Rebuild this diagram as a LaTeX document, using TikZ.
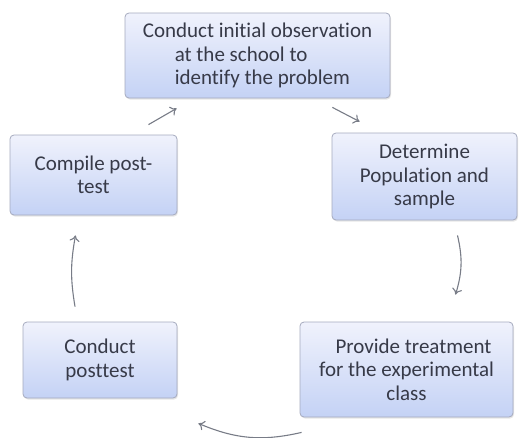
\documentclass[tikz,border=0pt]{standalone}
\usepackage{fontspec}
\setmainfont{Carlito}[Ligatures=NoCommon]
\usepackage{tikz}
\usetikzlibrary{arrows.meta}
\usetikzlibrary{shadows}
\usepackage{xcolor}
\definecolor{boxtop}{RGB}{240,242,252}
\definecolor{boxbot}{RGB}{196,210,245}
\definecolor{boxline}{RGB}{165,170,190}
\definecolor{boxtext}{RGB}{55,58,72}
\definecolor{flowgray}{RGB}{120,124,135}

\begin{document}
\begin{tikzpicture}[x=1pt,y=-1pt,
  stagebox/.style={rounded corners=4pt, draw=boxline, line width=0.8pt,
    top color=boxtop, bottom color=boxbot, text=boxtext, inner sep=0pt,
    font=\fontsize{21}{23.5}\selectfont, align=center,
    drop shadow={opacity=0.2, shadow xshift=1pt, shadow yshift=-1.5pt}},
  flow/.style={flowgray, line width=1.1pt, -{To[length=6pt,width=10pt]}}]
\useasboundingbox (0,0) rectangle (520,437);
\node [stagebox, minimum width=265pt, minimum height=85pt, align=left] (obs) at (257.5,55.5)
  {Conduct initial observation\\\hspace*{32pt}at the school to\\\hspace*{32pt}identify the problem};
\node [stagebox, minimum width=185pt, minimum height=87pt] (pop) at (424.5,176.5)
  {Determine\\Population and\\sample};
\node [stagebox, minimum width=213pt, minimum height=95pt] (treat) at (406.5,369.5)
  {\hspace*{14pt}Provide treatment\\for the experimental\\class};
\node [stagebox, minimum width=154pt, minimum height=76pt] (post) at (100,360)
  {Conduct\\posttest};
\node [stagebox, minimum width=167pt, minimum height=80pt] (comp) at (93.5,175)
  {Compile post-\\test};
% arrows between the boxes
\draw [flow] ([xshift=55pt,yshift=10pt]comp.north) -- ([xshift=52pt,yshift=-10pt]obs.south west);
\draw [flow] ([xshift=-58pt,yshift=-9pt]obs.south east) -- ([xshift=28pt,yshift=11pt]pop.north west);
\draw [flow] ([xshift=33pt,yshift=-15pt]pop.south) to[bend left=15] ([xshift=49pt,yshift=27pt]treat.north);
\draw [flow] ([xshift=2pt,yshift=-15pt]treat.south west) to[bend left=18] ([xshift=21pt,yshift=-25pt]post.south east);
\draw [flow] ([xshift=-25pt,yshift=15pt]post.north) to[bend left=10] ([xshift=-18pt,yshift=-20pt]comp.south);
\end{tikzpicture}
\end{document}
